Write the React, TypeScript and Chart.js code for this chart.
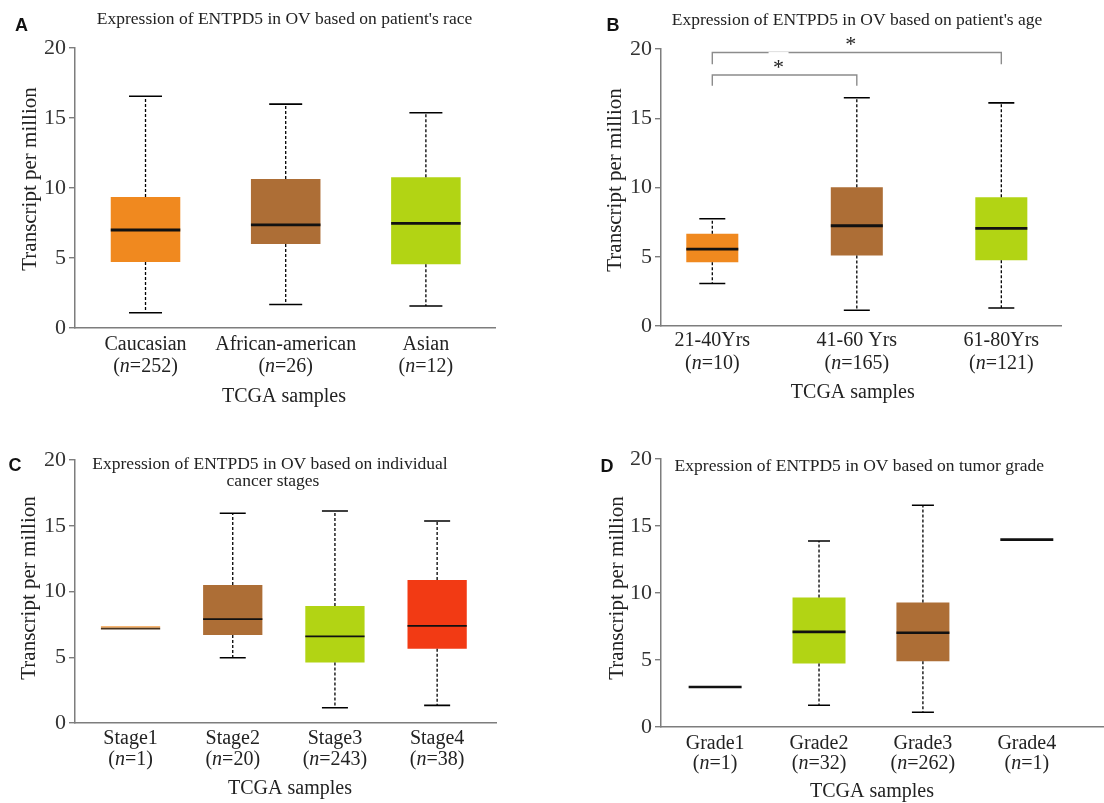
import React, { useEffect, useRef } from "react";
import { Chart, registerables } from "chart.js";

Chart.register(...registerables);

const SERIF = '"Liberation Serif", "Times New Roman", Times, serif';
const SANS = '"Liberation Sans", Arial, sans-serif';

// ---------- data ----------
const yTickValues = [0, 5, 10, 15, 20];
const xAxisTitle = "TCGA samples";
const yAxisTitle = "Transcript per million";

// Panel A: race
const raceTitle = ["Expression of ENTPD5 in OV based on patient's race"];
const raceCategories = ["Caucasian", "African-american", "Asian"];
const raceCounts = [252, 26, 12];
const raceMin = [1.09, 1.68, 1.57];
const raceQ1 = [4.71, 6.0, 4.56];
const raceMedian = [7.0, 7.36, 7.48];
const raceQ3 = [9.36, 10.64, 10.76];
const raceMax = [16.55, 15.99, 15.37];

// Panel B: age
const ageTitle = ["Expression of ENTPD5 in OV based on patient's age"];
const ageCategories = ["21-40Yrs", "41-60 Yrs", "61-80Yrs"];
const ageCounts = [10, 165, 121];
const ageMin = [3.07, 1.14, 1.3];
const ageQ1 = [4.61, 5.09, 4.75];
const ageMedian = [5.55, 7.24, 7.05];
const ageQ3 = [6.66, 10.01, 9.29];
const ageMax = [7.74, 16.48, 16.11];
const ageSigPairs = [[0, 1], [0, 2]];
const ageSigLevels = [18.12, 19.75];
const ageSigLegs = [17.34, 18.9];
const ageSigLabels = ["*", "*"];

// Panel C: stage
const stageTitle = ["Expression of ENTPD5 in OV based on individual", "cancer stages"];
const stageCategories = ["Stage1", "Stage2", "Stage3", "Stage4"];
const stageCounts = [1, 20, 243, 38];
const stageMin: (number | null)[] = [null, 4.96, 1.16, 1.34];
const stageQ1 = [7.18, 6.7, 4.6, 5.64];
const stageMedian = [7.18, 7.9, 6.58, 7.39];
const stageQ3 = [7.18, 10.5, 8.9, 10.88];
const stageMax: (number | null)[] = [null, 15.95, 16.12, 15.36];

// Panel D: grade
const gradeTitle = ["Expression of ENTPD5 in OV based on tumor grade"];
const gradeCategories = ["Grade1", "Grade2", "Grade3", "Grade4"];
const gradeCounts = [1, 32, 262, 1];
const gradeMin: (number | null)[] = [null, 1.62, 1.1, null];
const gradeQ1 = [2.99, 4.74, 4.91, 13.98];
const gradeMedian = [2.99, 7.1, 7.03, 13.98];
const gradeQ3 = [2.99, 9.67, 9.3, 13.98];
const gradeMax: (number | null)[] = [null, 13.88, 16.55, null];

// ---------- styles ----------
const ORANGE = "#F0891F";
const BROWN = "#AD6E36";
const LIME = "#B2D414";
const RED = "#F23A14";
const AXIS = "#7d7d7d";
const TEXT = "#222";

type Panel = {
  letter: string;
  title: string[];
  categories: string[];
  counts: number[];
  min: (number | null)[];
  q1: number[];
  med: number[];
  q3: number[];
  max: (number | null)[];
  colors: string[];
  medianColors: string[];
  canvas: { left: number; top: number; w: number; h: number };
  area: { left: number; top: number; right: number; bottom: number };
  xRange: [number, number];
  barFrac: number;
  capW: number;
  medW: number;
  letterPos: [number, number];
  titlePos: [number, number][];
  yTitlePos: [number, number];
  xTitlePos: [number, number];
  tickDy: [number, number];
  sig?: { pairs: number[][]; levels: number[]; legs: number[]; labels: string[] };
};

const panels: Panel[] = [
  {
    letter: "A",
    title: raceTitle,
    categories: raceCategories,
    counts: raceCounts,
    min: raceMin,
    q1: raceQ1,
    med: raceMedian,
    q3: raceQ3,
    max: raceMax,
    colors: [ORANGE, BROWN, LIME],
    medianColors: ["#111", "#111", "#111"],
    canvas: { left: 0, top: 0, w: 552, h: 420 },
    area: { left: 75, top: 48, right: 495, bottom: 328 },
    xRange: [0.497, 3.493],
    barFrac: 0.496,
    capW: 33,
    medW: 2.8,
    letterPos: [21.5, 26],
    titlePos: [[284.5, 19.5]],
    yTitlePos: [30, 179],
    xTitlePos: [284, 397],
    tickDy: [17, 39],
  },
  {
    letter: "B",
    title: ageTitle,
    categories: ageCategories,
    counts: ageCounts,
    min: ageMin,
    q1: ageQ1,
    med: ageMedian,
    q3: ageQ3,
    max: ageMax,
    colors: [ORANGE, BROWN, LIME],
    medianColors: ["#111", "#111", "#111"],
    canvas: { left: 552, top: 0, w: 552, h: 420 },
    area: { left: 109, top: 49, right: 509, bottom: 326 },
    xRange: [0.645, 3.413],
    barFrac: 0.36,
    capW: 26,
    medW: 2.8,
    letterPos: [61, 26],
    titlePos: [[305, 20]],
    yTitlePos: [63.3, 180],
    xTitlePos: [300.8, 393],
    tickDy: [14.7, 37.3],
    sig: { pairs: ageSigPairs, levels: ageSigLevels, legs: ageSigLegs, labels: ageSigLabels },
  },
  {
    letter: "C",
    title: stageTitle,
    categories: stageCategories,
    counts: stageCounts,
    min: stageMin,
    q1: stageQ1,
    med: stageMedian,
    q3: stageQ3,
    max: stageMax,
    colors: [ORANGE, BROWN, LIME, RED],
    medianColors: ["#4a3520", "#111", "#111", "#111"],
    canvas: { left: 0, top: 420, w: 552, h: 383 },
    area: { left: 75, top: 40, right: 496, bottom: 303 },
    xRange: [0.4565, 4.576],
    barFrac: 0.58,
    capW: 26,
    medW: 1.8,
    letterPos: [15, 46],
    titlePos: [[270, 44], [273, 61.7]],
    yTitlePos: [29.5, 168],
    xTitlePos: [290, 369],
    tickDy: [15.3, 37],
  },
  {
    letter: "D",
    title: gradeTitle,
    categories: gradeCategories,
    counts: gradeCounts,
    min: gradeMin,
    q1: gradeQ1,
    med: gradeMedian,
    q3: gradeQ3,
    max: gradeMax,
    colors: ["#111", LIME, BROWN, "#111"],
    medianColors: ["#111", "#111", "#111", "#111"],
    canvas: { left: 552, top: 420, w: 552, h: 383 },
    area: { left: 109, top: 39, right: 552, bottom: 307 },
    xRange: [0.479, 4.743],
    barFrac: 0.51,
    capW: 22,
    medW: 2.6,
    letterPos: [55, 46.7],
    titlePos: [[307.3, 46]],
    yTitlePos: [65, 168],
    xTitlePos: [320, 371.7],
    tickDy: [16.3, 37],
  },
];

function makePlugin(p: Panel) {
  return {
    id: "boxDecor" + p.letter,
    afterDatasetsDraw(chart: any) {
      const { ctx } = chart;
      const x = chart.scales.x;
      const y = chart.scales.y;
      const meta = chart.getDatasetMeta(0);
      p.med.forEach((m, i) => {
        const cx = x.getPixelForValue(i + 1);
        const bw = meta.data[i].width;
        ctx.save();
        ctx.strokeStyle = "#000";
        const mx = p.max[i];
        const mn = p.min[i];
        if (mx != null && mn != null) {
          ctx.lineWidth = 1.3;
          ctx.setLineDash([3, 2]);
          ctx.beginPath();
          ctx.moveTo(cx, y.getPixelForValue(p.q3[i]));
          ctx.lineTo(cx, y.getPixelForValue(mx));
          ctx.moveTo(cx, y.getPixelForValue(p.q1[i]));
          ctx.lineTo(cx, y.getPixelForValue(mn));
          ctx.stroke();
          ctx.setLineDash([]);
          ctx.lineWidth = 1.6;
          ctx.beginPath();
          [mx, mn].forEach((v) => {
            const yy = y.getPixelForValue(v);
            ctx.moveTo(cx - p.capW / 2, yy);
            ctx.lineTo(cx + p.capW / 2, yy);
          });
          ctx.stroke();
        }
        const my = y.getPixelForValue(m);
        if (mx == null && p.colors[i] !== p.medianColors[i] && p.colors[i] !== "#111") {
          // single-sample group: thin coloured edge above the line
          ctx.fillStyle = p.colors[i];
          ctx.fillRect(cx - bw / 2, my - 2.2, bw, 1.2);
        }
        ctx.lineWidth = p.medW;
        ctx.strokeStyle = p.medianColors[i];
        ctx.beginPath();
        ctx.moveTo(cx - bw / 2, my);
        ctx.lineTo(cx + bw / 2, my);
        ctx.stroke();
        ctx.restore();
      });
    },
    afterDraw(chart: any) {
      const { ctx, chartArea } = chart;
      const x = chart.scales.x;
      const y = chart.scales.y;
      ctx.save();
      ctx.fillStyle = TEXT;
      ctx.textBaseline = "middle";
      ctx.textAlign = "center";

      // panel letter
      ctx.font = `bold 18px ${SANS}`;
      ctx.fillStyle = "#111";
      ctx.fillText(p.letter, p.letterPos[0], p.letterPos[1]);

      // title
      ctx.fillStyle = TEXT;
      ctx.font = `17.5px ${SERIF}`;
      p.title.forEach((t, k) => ctx.fillText(t, p.titlePos[k][0], p.titlePos[k][1]));

      // y title
      ctx.save();
      ctx.translate(p.yTitlePos[0], p.yTitlePos[1]);
      ctx.rotate(-Math.PI / 2);
      ctx.font = `21px ${SERIF}`;
      ctx.fillText(yAxisTitle, 0, 0);
      ctx.restore();

      // x title
      ctx.font = `20px ${SERIF}`;
      ctx.fillText(xAxisTitle, p.xTitlePos[0], p.xTitlePos[1]);

      // x tick labels
      p.categories.forEach((c, i) => {
        const cx = x.getPixelForValue(i + 1);
        ctx.font = `20px ${SERIF}`;
        ctx.textAlign = "center";
        ctx.fillText(c, cx, chartArea.bottom + p.tickDy[0]);
        const a = "(";
        const b = "n";
        const rest = "=" + p.counts[i] + ")";
        const normal = `20px ${SERIF}`;
        const italic = `italic 20px ${SERIF}`;
        ctx.font = normal;
        const wa = ctx.measureText(a).width;
        const wr = ctx.measureText(rest).width;
        ctx.font = italic;
        const wb = ctx.measureText(b).width;
        let sx = cx - (wa + wb + wr) / 2;
        const ly = chartArea.bottom + p.tickDy[1];
        ctx.textAlign = "left";
        ctx.font = normal;
        ctx.fillText(a, sx, ly);
        sx += wa;
        ctx.font = italic;
        ctx.fillText(b, sx, ly);
        sx += wb;
        ctx.font = normal;
        ctx.fillText(rest, sx, ly);
      });

      // significance brackets
      if (p.sig) {
        const s = p.sig;
        ctx.strokeStyle = "#8c8c8c";
        ctx.lineWidth = 1.4;
        s.pairs.forEach(([a, b], k) => {
          const x1 = x.getPixelForValue(a + 1);
          const x2 = x.getPixelForValue(b + 1);
          const yl = y.getPixelForValue(s.levels[k]);
          const yg = y.getPixelForValue(s.legs[k]);
          ctx.beginPath();
          ctx.moveTo(x1, yg);
          ctx.lineTo(x1, yl);
          ctx.lineTo(x2, yl);
          ctx.lineTo(x2, yg);
          ctx.stroke();
        });
        s.pairs.forEach(([a, b], k) => {
          const x1 = x.getPixelForValue(a + 1);
          const x2 = x.getPixelForValue(b + 1);
          const yl = y.getPixelForValue(s.levels[k]);
          const mx = (x1 + x2) / 2 - 6;
          ctx.fillStyle = "#fff";
          ctx.fillRect(mx - 10, yl - 23, 20, 21);
          ctx.fillStyle = TEXT;
          ctx.font = `22px ${SERIF}`;
          ctx.textAlign = "center";
          ctx.textBaseline = "alphabetic";
          ctx.fillText(s.labels[k], mx, yl - 12 + 10.5);
          ctx.textBaseline = "middle";
        });
      }
      ctx.restore();
    },
  };
}

function PanelChart({ p }: { p: Panel }) {
  const ref = useRef<HTMLCanvasElement>(null);
  useEffect(() => {
    const xH = 20;
    const chart = new Chart(ref.current as HTMLCanvasElement, {
      type: "bar",
      data: {
        datasets: [
          {
            data: p.categories.map((_, i) => ({ x: i + 1, y: [p.q1[i], p.q3[i]] })) as any,
            backgroundColor: p.colors,
            borderWidth: 0,
            barPercentage: p.barFrac,
            categoryPercentage: 1,
          },
        ],
      },
      options: {
        responsive: false,
        animation: false,
        devicePixelRatio: 1,
        layout: {
          padding: {
            left: 0,
            top: p.area.top,
            right: p.canvas.w - p.area.right,
            bottom: p.canvas.h - p.area.bottom - xH,
          },
        },
        plugins: {
          legend: { display: false },
          tooltip: { enabled: false },
          title: { display: false },
        },
        scales: {
          x: {
            type: "linear",
            min: p.xRange[0],
            max: p.xRange[1],
            offset: false,
            grid: { display: false },
            border: { display: true, color: AXIS, width: 1.5 },
            ticks: { display: false },
            afterBuildTicks: (s: any) => {
              s.ticks = p.categories.map((_, i) => ({ value: i + 1 }));
            },
            afterFit: (s: any) => {
              s.height = xH;
            },
          },
          y: {
            type: "linear",
            min: 0,
            max: 20,
            grid: {
              display: true,
              drawOnChartArea: false,
              drawTicks: true,
              tickLength: 6,
              color: AXIS,
              lineWidth: 1.4,
            },
            border: { display: true, color: AXIS, width: 1.5 },
            ticks: {
              font: { family: SERIF, size: 22 },
              color: "#333",
              padding: 3,
            },
            afterBuildTicks: (s: any) => {
              s.ticks = yTickValues.map((v) => ({ value: v }));
            },
            afterFit: (s: any) => {
              s.width = p.area.left;
            },
          },
        },
      },
      plugins: [makePlugin(p)],
    } as any);
    return () => chart.destroy();
  }, []);
  return (
    <canvas
      ref={ref}
      width={p.canvas.w}
      height={p.canvas.h}
      style={{
        position: "absolute",
        left: p.canvas.left,
        top: p.canvas.top,
        width: p.canvas.w,
        height: p.canvas.h,
      }}
    />
  );
}

export default function App() {
  return (
    <div
      style={{
        position: "absolute",
        left: 0,
        top: 0,
        width: 1104,
        height: 803,
        background: "#fff",
        overflow: "hidden",
      }}
    >
      {panels.map((p) => (
        <PanelChart key={p.letter} p={p} />
      ))}
    </div>
  );
}
